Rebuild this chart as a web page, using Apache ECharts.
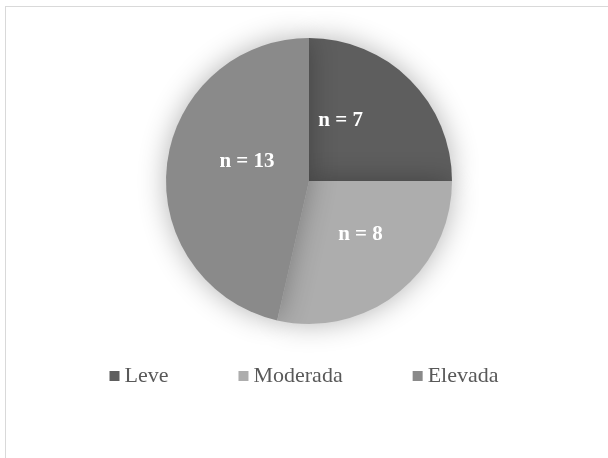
<!DOCTYPE html>
<html>
<head>
<meta charset="utf-8">
<script src="https://cdn.jsdelivr.net/npm/echarts@6/dist/echarts.min.js"></script>
<style>
  html, body { margin: 0; padding: 0; background: #fff; overflow: hidden; width: 608px; height: 458px; }
  #frame { position: absolute; left: 5px; top: 6px; right: 0; bottom: 0; border-top: 1px solid #d9d9d9; border-left: 1px solid #d9d9d9; }
  #main { position: absolute; left: 0; top: 0; width: 608px; height: 458px; }
</style>
</head>
<body>
<div id="frame"></div>
<div id="main"></div>
<script>
// categorias y valores (n por grupo)
var categories = ['Leve', 'Moderada', 'Elevada'];
var values = [7, 8, 13];
var colors = ['#5e5e5e', '#adadad', '#8a8a8a'];
// desplazamiento de etiquetas para parecerse al original
var labelOffsets = [[-21, -8], [5, -5], [12, -11]];

var chart = echarts.init(document.getElementById('main'));

var data = categories.map(function (name, i) {
   return {
      name: name,
      value: values[i],
      itemStyle: { color: colors[i] },
      label: { offset: labelOffsets[i] }
   };
});

chart.setOption({
   animation: false,
   legend: {
      data: categories,
      top: 360,
      left: 'center',
      itemWidth: 10,
      itemHeight: 10,
      itemGap: 70,
      icon: 'rect',
      textStyle: {
         fontFamily: 'Liberation Serif',
         fontSize: 22,
         color: '#595959'
      }
   },
   series: [
      {
         type: 'pie',
         center: [309, 181],
         radius: 143,
         startAngle: 90,
         clockwise: true,
         silent: true,
         itemStyle: {
            borderWidth: 0,
            shadowBlur: 28,
            shadowColor: 'rgba(0,0,0,0.3)'
         },
         label: {
            show: true,
            position: 'inside',
            formatter: 'n = {c}',
            color: '#ffffff',
            fontFamily: 'Liberation Serif',
            fontWeight: 'bold',
            fontSize: 21
         },
         labelLine: { show: false },
         data: data
      }
   ]
});
</script>
</body>
</html>
